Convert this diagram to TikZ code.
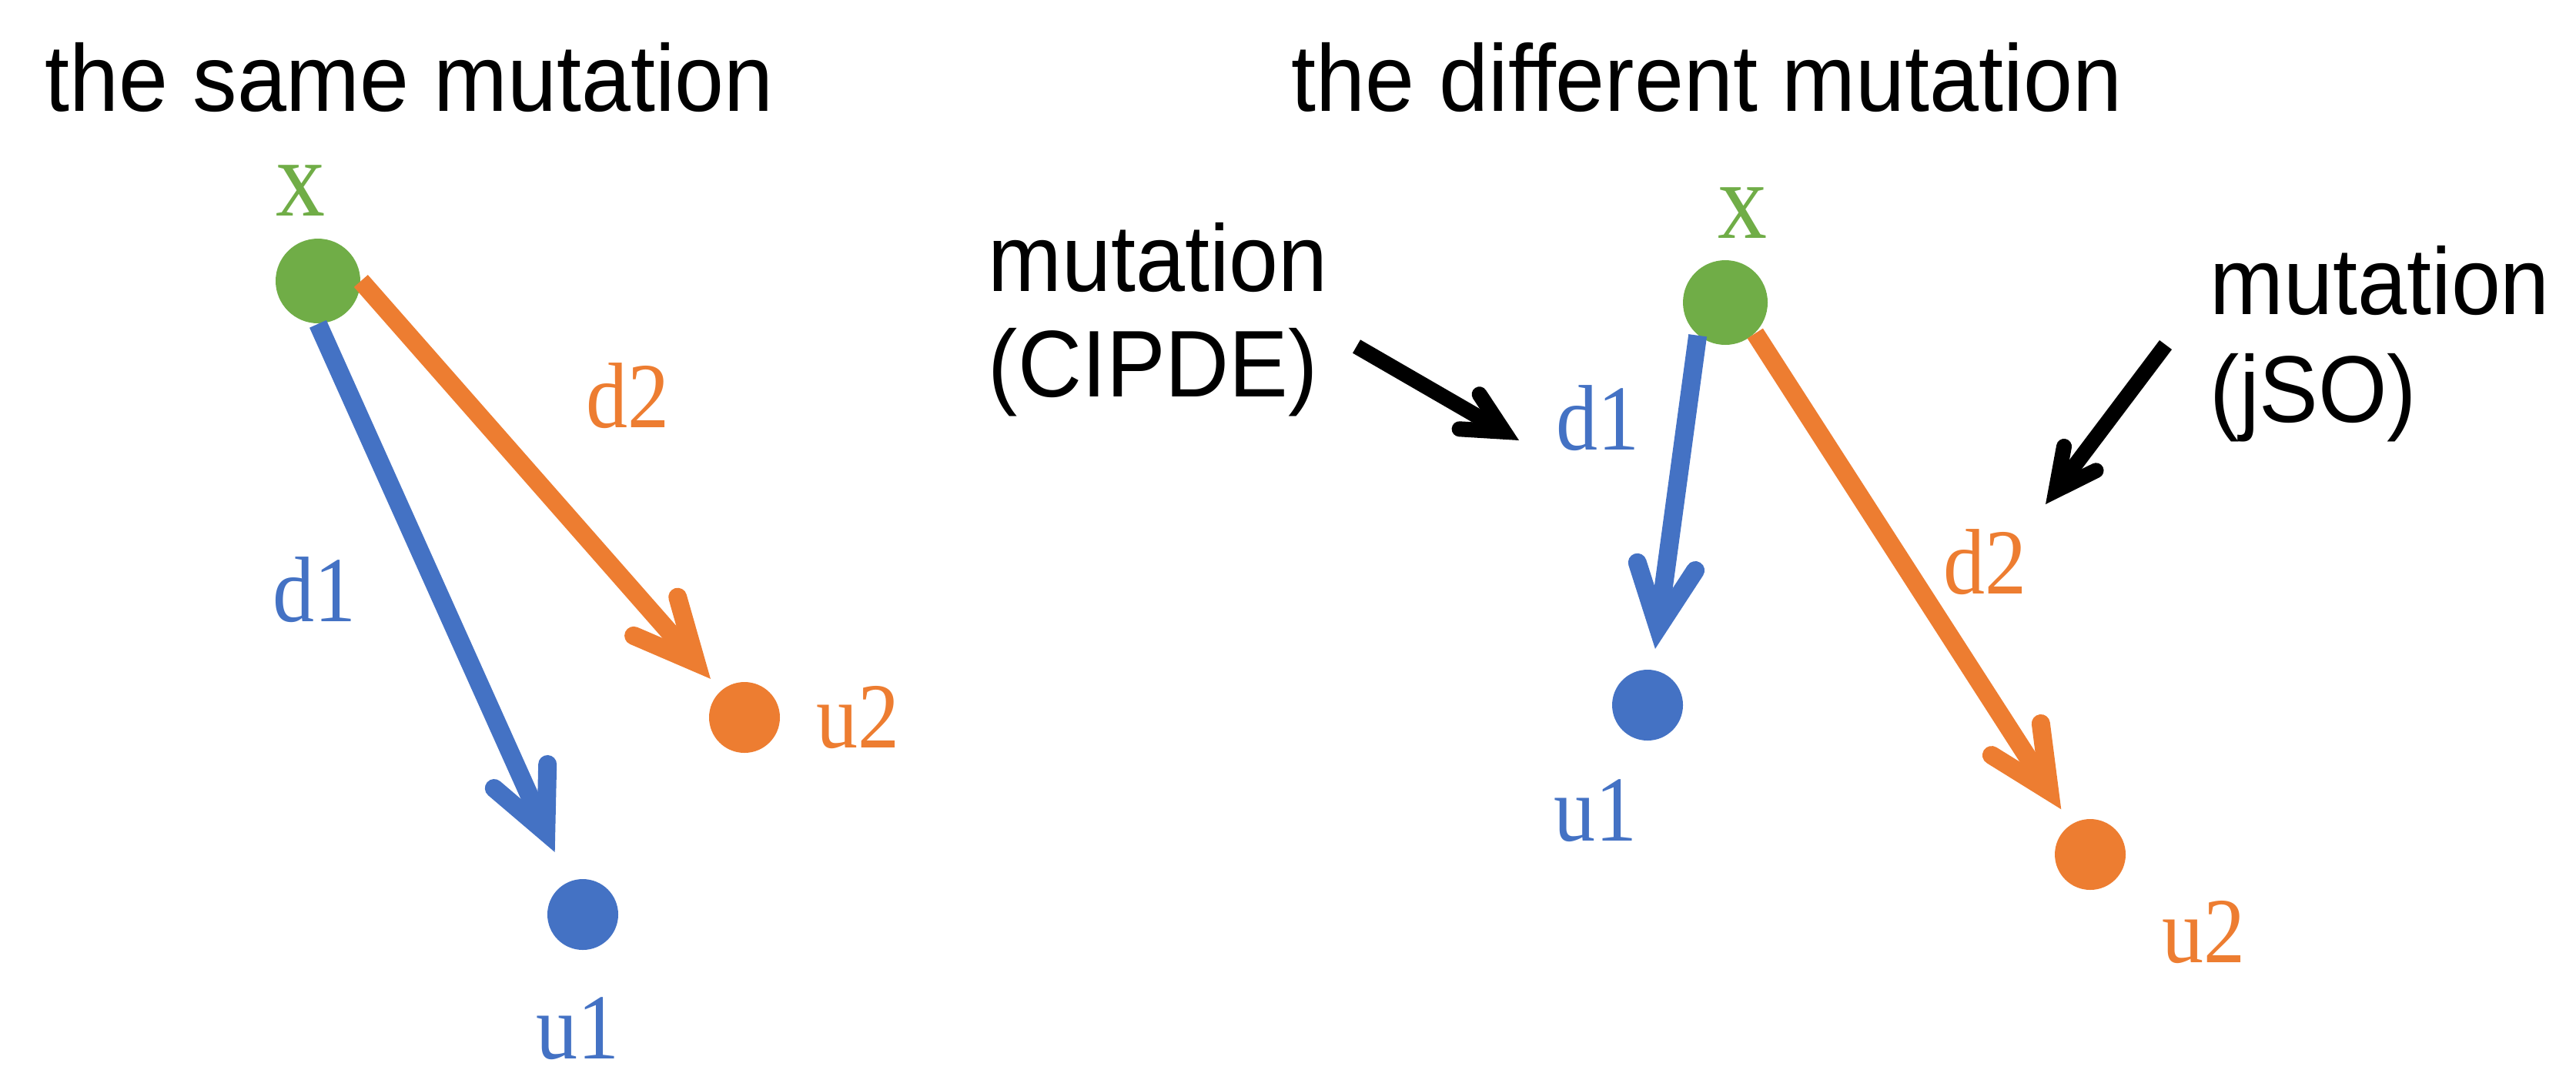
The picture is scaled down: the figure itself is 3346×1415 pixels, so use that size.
\documentclass[tikz,border=0pt]{standalone}
\usepackage{fontspec}
\usepackage{graphicx}
\setmainfont{Liberation Serif}
\newfontfamily\arialf{Liberation Sans}
\usetikzlibrary{arrows.meta}
\definecolor{gr}{HTML}{70AD47}
\definecolor{bl}{HTML}{4472C4}
\definecolor{orr}{HTML}{ED7D31}
\newcommand\vsc[1]{\scalebox{1}[1.07]{#1}}
\newcommand\vsl[1]{\scalebox{1}[1.12]{#1}}
\begin{document}
\begin{tikzpicture}[x=0.25pt,y=-0.25pt,
 title/.style={anchor=base west, inner sep=0, font=\arialf\fontsize{28.75}{34.5}\selectfont},
 lab/.style={anchor=base, inner sep=0, font=\fontsize{27}{32}\selectfont},
 xlab/.style={anchor=base, inner sep=0, font=\fontsize{32}{38}\selectfont, text=gr},
 bigdot/.style={circle, inner sep=0, minimum size=27.5pt},
 smalldot/.style={circle, inner sep=0, minimum size=23pt},
 carrow/.style={line width=6pt, -{Straight Barb[length=20pt,width=19pt,line cap=round,line join=miter]}},
 karrow/.style={line width=5pt, -{Straight Barb[length=13pt,width=13pt,line cap=round,line join=miter]}},
]
\useasboundingbox (0,0) rectangle (3346,1415);

% titles
\node[title] (t1) at (58,144) {\vsc{the same mutation}};
\node[title] (t2) at (1677,144) {\vsc{the different mutation}};

% ---- left panel ----
\node[bigdot, fill=gr] (gL) at (413,365) {};
\node[smalldot, fill=bl] (uL1) at (757,1188) {};
\node[smalldot, fill=orr] (uL2) at (967,932) {};
\node[xlab] (xL) at (390,280) {\vsl{x}};
\node[lab, text=orr] (d2L) at (815,555) {\vsl{d2}};
\node[lab, text=bl] (d1L) at (408,807) {\vsl{d1}};
\node[lab, text=bl] (u1L) at (750,1375) {\vsl{u1}};
\node[lab, text=orr] (u2L) at (1114,971) {\vsl{u2}};
\draw[carrow, bl, shorten >=10.5pt] (gL.south) -- (uL1);
\draw[carrow, orr, shorten >=5pt] (gL.east) -- (uL2);

% ---- right panel ----
\node[bigdot, fill=gr] (gR) at (2241,393) {};
\node[smalldot, fill=bl] (uR1) at (2140,916) {};
\node[smalldot, fill=orr] (uR2) at (2715,1110) {};
\node[xlab] (xR) at (2263,309) {\vsl{x}};
\node[lab, text=bl] (d1R) at (2075,584) {\vsl{d1}};
\node[lab, text=orr] (d2R) at (2578,771) {\vsl{d2}};
\node[lab, text=bl] (u1R) at (2072,1092) {\vsl{u1}};
\node[lab, text=orr] (u2R) at (2862,1250) {\vsl{u2}};
\draw[carrow, bl, shorten >=6.75pt] (gR.-130) -- (uR1);
\draw[carrow, orr, shorten >=5.75pt] (gR.-46) -- (uR2);

% annotations
\node[title] (m1a) at (1283,378) {\vsc{mutation}};
\node[title] (m1b) at (1283,515) {\vsc{(CIPDE)}};
\node[title] (m2a) at (2870,408) {\vsc{mutation}};
\node[title] (m2b) at (2870,548) {\vsc{(jSO)}};
\coordinate (ca1) at (1762,450);
\coordinate (ca2) at (1973,572);
\coordinate (cb1) at (2813,448);
\coordinate (cb2) at (2657,655);
\draw[karrow] (ca1) -- (ca2);
\draw[karrow] (cb1) -- (cb2);
\end{tikzpicture}
\end{document}
